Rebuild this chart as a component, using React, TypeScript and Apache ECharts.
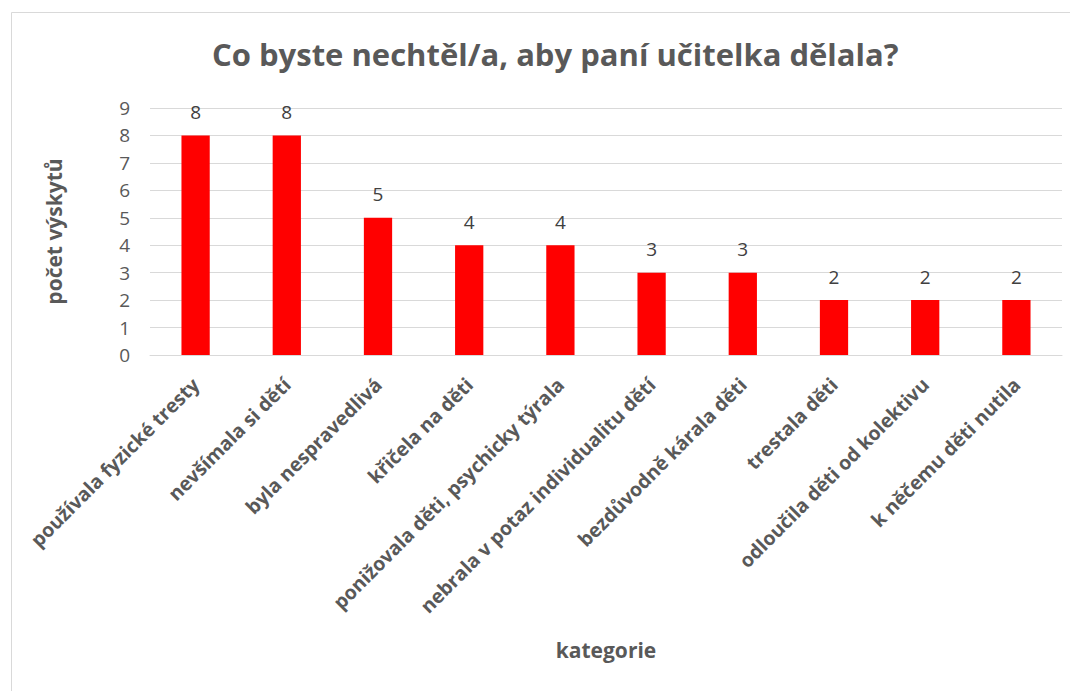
import React, { useEffect, useRef } from "react";
import * as echarts from "echarts";

const titleText = "Co byste nechtěl/a, aby paní učitelka dělala?";
const categories = [
  "používala fyzické tresty",
  "nevšímala si dětí",
  "byla nespravedlivá",
  "křičela na děti",
  "ponižovala děti, psychicky týrala",
  "nebrala v potaz individualitu dětí",
  "bezdůvodně kárala děti",
  "trestala děti",
  "odloučila děti od kolektivu",
  "k něčemu děti nutila",
];
const values = [8, 8, 5, 4, 4, 3, 3, 2, 2, 2];
const yAxisName = "počet výskytů";
const xAxisName = "kategorie";

export default function App() {
  const ref = useRef<HTMLDivElement>(null);
  useEffect(() => {
    if (!ref.current) return;
    const chart = echarts.init(ref.current, null, { renderer: "svg" });
    const font = "'Open Sans', 'DejaVu Sans', sans-serif";
    chart.setOption({
      animation: false,
      textStyle: { fontFamily: font },
      graphic: [
        {
          type: "rect",
          left: 1,
          top: 2,
          shape: { width: 1080, height: 700 },
          style: { fill: "none", stroke: "#d9d9d9", lineWidth: 1 },
          silent: true,
        },
      ],
      title: {
        text: titleText,
        left: 199,
        top: 25,
        textStyle: { fontFamily: font, fontSize: 31, fontWeight: "bold", color: "#595959" },
      },
      grid: { left: 142, right: 16, top: 100, bottom: 336, containLabel: false },
      xAxis: {
        type: "category",
        data: categories,
        name: xAxisName,
        nameLocation: "middle",
        nameGap: 284,
        nameTextStyle: { fontFamily: font, fontSize: 21, fontWeight: "bold", color: "#595959" },
        axisLine: { lineStyle: { color: "#d9d9d9", width: 1 } },
        axisTick: { show: false },
        axisLabel: {
          interval: 0,
          rotate: 45,
          fontFamily: font,
          fontSize: 19.5,
          fontWeight: "bold",
          color: "#595959",
          margin: 26,
        },
      },
      yAxis: {
        type: "value",
        min: 0,
        max: 9,
        interval: 1,
        name: yAxisName,
        nameLocation: "middle",
        nameGap: 86,
        nameRotate: 90,
        nameTextStyle: { fontFamily: font, fontSize: 21, fontWeight: "bold", color: "#595959" },
        axisLine: { show: false },
        axisTick: { show: false },
        splitLine: { lineStyle: { color: "#d9d9d9", width: 1 } },
        axisLabel: { fontFamily: font, fontSize: 19, color: "#595959", margin: 20 },
      },
      series: [
        {
          type: "bar",
          data: values,
          barWidth: "31%",
          itemStyle: { color: "#ff0000" },
          label: {
            show: true,
            position: "top",
            distance: 14,
            fontFamily: font,
            fontSize: 19,
            color: "#404040",
          },
        },
      ],
    });
    return () => chart.dispose();
  }, []);
  return <div ref={ref} style={{ width: 1070, height: 683 }} />;
}
